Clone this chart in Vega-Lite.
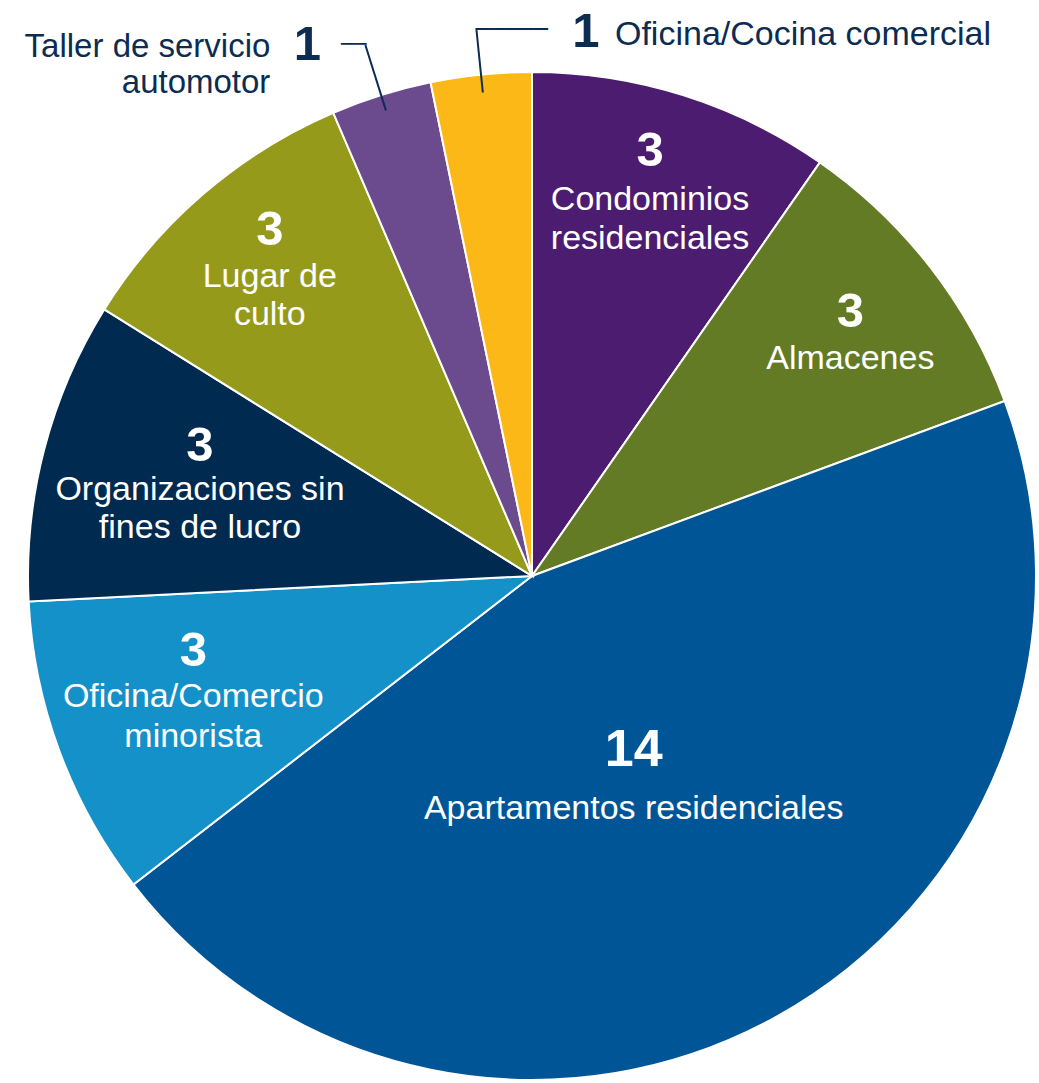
{
  "$schema": "https://vega.github.io/schema/vega-lite/v6.json",
  "width": 1008,
  "height": 1008,
  "autosize": "none",
  "padding": {"left": 28, "top": 72, "right": 0, "bottom": 0},
  "background": "white",
  "config": {"view": {"stroke": null}},
  "data": {
    "values": [
      {"cat": "Condominios residenciales", "n": 3, "orden": 1, "label": "Condominios\nresidenciales"},
      {"cat": "Almacenes", "n": 3, "orden": 2, "label": "Almacenes"},
      {"cat": "Apartamentos residenciales", "n": 14, "orden": 3, "label": "Apartamentos residenciales"},
      {"cat": "Oficina/Comercio minorista", "n": 3, "orden": 4, "label": "Oficina/Comercio\nminorista"},
      {"cat": "Organizaciones sin fines de lucro", "n": 3, "orden": 5, "label": "Organizaciones sin\nfines de lucro"},
      {"cat": "Lugar de culto", "n": 3, "orden": 6, "label": "Lugar de\nculto"},
      {"cat": "Taller de servicio automotor", "n": 1, "orden": 7, "label": "Taller de servicio\nautomotor"},
      {"cat": "Oficina/Cocina comercial", "n": 1, "orden": 8, "label": "Oficina/Cocina comercial"}
    ]
  },
  "encoding": {
    "theta": {"field": "n", "type": "quantitative", "stack": true},
    "order": {"field": "orden", "type": "quantitative"},
    "detail": {"field": "cat", "type": "nominal"}
  },
  "layer": [
    {
      "mark": {"type": "arc", "outerRadius": 504, "stroke": "white", "strokeWidth": 2},
      "encoding": {
        "color": {
          "field": "cat",
          "type": "nominal",
          "legend": null,
          "scale": {
            "domain": ["Condominios residenciales", "Almacenes", "Apartamentos residenciales", "Oficina/Comercio minorista", "Organizaciones sin fines de lucro", "Lugar de culto", "Taller de servicio automotor", "Oficina/Cocina comercial"],
            "range": ["#4b1c6f", "#627b24", "#005596", "#1591c9", "#002a50", "#969a1b", "#6c4a8e", "#fbb817"]
          }
        }
      }
    },
    {
      "mark": {"type": "arc", "radius": 556.6, "radius2": 488, "padAngle": 0.6, "fillOpacity": 0, "stroke": "#0c2c52", "strokeWidth": 2},
      "encoding": {"strokeOpacity": {"condition": {"test": "datum.orden === 7", "value": 1}, "value": 0}}
    },
    {
      "mark": {"type": "arc", "radius": 548.8, "radius2": 486, "padAngle": 0.6, "fillOpacity": 0, "stroke": "#0c2c52", "strokeWidth": 2},
      "encoding": {"strokeOpacity": {"condition": {"test": "datum.orden === 8", "value": 1}, "value": 0}}
    },
    {
      "mark": {"type": "text", "radius": 401, "dx": -2, "dy": -42, "font": "Liberation Sans", "fontSize": 49, "fontWeight": "bold", "color": "white", "align": "center", "baseline": "middle"},
      "encoding": {"text": {"condition": {"test": "datum.orden === 1", "field": "n", "type": "quantitative"}, "value": ""}}
    },
    {
      "mark": {"type": "text", "radius": 401, "dx": -2, "dy": 6.5, "font": "Liberation Sans", "fontSize": 34, "lineHeight": 39, "lineBreak": "\n", "color": "white", "align": "center", "baseline": "middle"},
      "encoding": {"text": {"condition": {"test": "datum.orden === 1", "field": "label", "type": "nominal"}, "value": ""}}
    },
    {
      "mark": {"type": "text", "radius": 400, "dx": 2, "dy": -19, "font": "Liberation Sans", "fontSize": 49, "fontWeight": "bold", "color": "white", "align": "center", "baseline": "middle"},
      "encoding": {"text": {"condition": {"test": "datum.orden === 2", "field": "n", "type": "quantitative"}, "value": ""}}
    },
    {
      "mark": {"type": "text", "radius": 400, "dx": 2, "dy": 28, "font": "Liberation Sans", "fontSize": 34, "lineHeight": 39, "lineBreak": "\n", "color": "white", "align": "center", "baseline": "middle"},
      "encoding": {"text": {"condition": {"test": "datum.orden === 2", "field": "label", "type": "nominal"}, "value": ""}}
    },
    {
      "mark": {"type": "text", "radius": 224, "dx": -7, "dy": -22, "font": "Liberation Sans", "fontSize": 52, "fontWeight": "bold", "color": "white", "align": "center", "baseline": "middle"},
      "encoding": {"text": {"condition": {"test": "datum.orden === 3", "field": "n", "type": "quantitative"}, "value": ""}}
    },
    {
      "mark": {"type": "text", "radius": 224, "dx": -7, "dy": 37, "font": "Liberation Sans", "fontSize": 34, "lineHeight": 39, "lineBreak": "\n", "color": "white", "align": "center", "baseline": "middle"},
      "encoding": {"text": {"condition": {"test": "datum.orden === 3", "field": "label", "type": "nominal"}, "value": ""}}
    },
    {
      "mark": {"type": "text", "radius": 358, "dx": -3, "dy": -49, "font": "Liberation Sans", "fontSize": 49, "fontWeight": "bold", "color": "white", "align": "center", "baseline": "middle"},
      "encoding": {"text": {"condition": {"test": "datum.orden === 4", "field": "n", "type": "quantitative"}, "value": ""}}
    },
    {
      "mark": {"type": "text", "radius": 358, "dx": -3, "dy": -3, "font": "Liberation Sans", "fontSize": 34, "lineHeight": 40, "lineBreak": "\n", "color": "white", "align": "center", "baseline": "middle"},
      "encoding": {"text": {"condition": {"test": "datum.orden === 4", "field": "label", "type": "nominal"}, "value": ""}}
    },
    {
      "mark": {"type": "text", "radius": 344, "dx": 1, "dy": -44, "font": "Liberation Sans", "fontSize": 49, "fontWeight": "bold", "color": "white", "align": "center", "baseline": "middle"},
      "encoding": {"text": {"condition": {"test": "datum.orden === 5", "field": "n", "type": "quantitative"}, "value": ""}}
    },
    {
      "mark": {"type": "text", "radius": 344, "dx": 1, "dy": 0, "font": "Liberation Sans", "fontSize": 34, "lineHeight": 38, "lineBreak": "\n", "color": "white", "align": "center", "baseline": "middle"},
      "encoding": {"text": {"condition": {"test": "datum.orden === 5", "field": "label", "type": "nominal"}, "value": ""}}
    },
    {
      "mark": {"type": "text", "radius": 401, "dx": -1, "dy": -42, "font": "Liberation Sans", "fontSize": 49, "fontWeight": "bold", "color": "white", "align": "center", "baseline": "middle"},
      "encoding": {"text": {"condition": {"test": "datum.orden === 6", "field": "n", "type": "quantitative"}, "value": ""}}
    },
    {
      "mark": {"type": "text", "radius": 401, "dx": -1, "dy": 5, "font": "Liberation Sans", "fontSize": 34, "lineHeight": 38, "lineBreak": "\n", "color": "white", "align": "center", "baseline": "middle"},
      "encoding": {"text": {"condition": {"test": "datum.orden === 6", "field": "label", "type": "nominal"}, "value": ""}}
    },
    {
      "mark": {"type": "text", "radius": 556.6, "font": "DejaVu Sans", "fontSize": 21, "color": "#0c2c52", "align": "right", "baseline": "middle", "dx": 1},
      "encoding": {"text": {"condition": {"test": "datum.orden === 7", "value": "──"}, "value": ""}}
    },
    {
      "mark": {"type": "text", "radius": 556.6, "dx": -58, "dy": 0, "font": "Liberation Sans", "fontSize": 49, "fontWeight": "bold", "color": "#0c2c52", "align": "center", "baseline": "middle"},
      "encoding": {"text": {"condition": {"test": "datum.orden === 7", "field": "n", "type": "quantitative"}, "value": ""}}
    },
    {
      "mark": {"type": "text", "radius": 556.6, "dx": -95, "dy": 2.5, "font": "Liberation Sans", "fontSize": 33, "lineHeight": 36, "lineBreak": "\n", "color": "#0c2c52", "align": "right", "baseline": "middle"},
      "encoding": {"text": {"condition": {"test": "datum.orden === 7", "field": "label", "type": "nominal"}, "value": ""}}
    },
    {
      "mark": {"type": "text", "radius": 548.8, "font": "DejaVu Sans", "fontSize": 24, "color": "#0c2c52", "align": "left", "baseline": "middle", "dx": -1},
      "encoding": {"text": {"condition": {"test": "datum.orden === 8", "value": "─────"}, "value": ""}}
    },
    {
      "mark": {"type": "text", "radius": 548.8, "dx": 109.5, "dy": 2, "font": "Liberation Sans", "fontSize": 49, "fontWeight": "bold", "color": "#0c2c52", "align": "center", "baseline": "middle"},
      "encoding": {"text": {"condition": {"test": "datum.orden === 8", "field": "n", "type": "quantitative"}, "value": ""}}
    },
    {
      "mark": {"type": "text", "radius": 548.8, "dx": 138.5, "dy": 5, "font": "Liberation Sans", "fontSize": 34, "lineBreak": "\n", "color": "#0c2c52", "align": "left", "baseline": "middle"},
      "encoding": {"text": {"condition": {"test": "datum.orden === 8", "field": "label", "type": "nominal"}, "value": ""}}
    }
  ]
}
